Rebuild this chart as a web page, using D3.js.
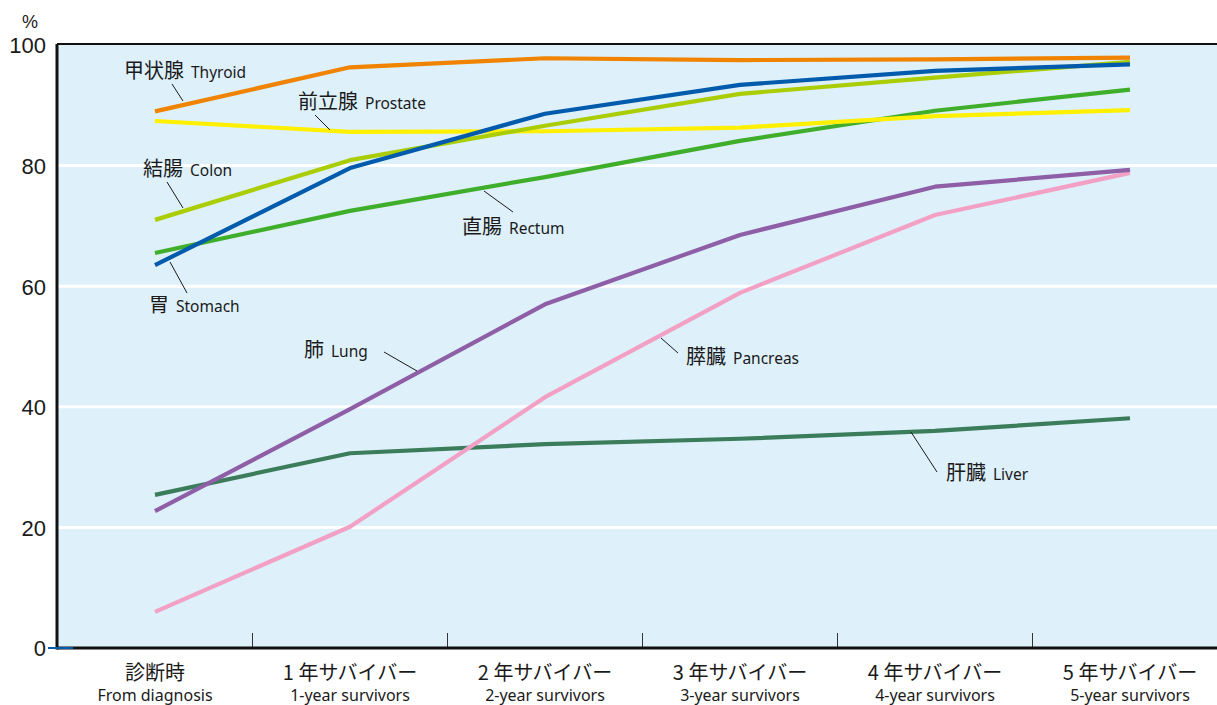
<!DOCTYPE html>
<html><head><meta charset="utf-8">
<script src="https://cdn.jsdelivr.net/npm/d3@7"></script>
<style>
html,body{margin:0;padding:0;background:#fff;overflow:hidden}
svg{display:block}
text{font-family:"Noto Sans CJK JP","Noto Sans",sans-serif;fill:#1a1a1a}
.en{font-family:"Noto Sans","Liberation Sans",sans-serif}
</style></head>
<body>
<svg id="chart" width="1217" height="705"></svg>
<script>
// ---- data ----
const categoriesJa = ["診断時","1 年サバイバー","2 年サバイバー","3 年サバイバー","4 年サバイバー","5 年サバイバー"];
const categoriesEn = ["From diagnosis","1-year survivors","2-year survivors","3-year survivors","4-year survivors","5-year survivors"];
const yTicks = [0,20,40,60,80,100];
const seriesNames = ["liver","pancreas","lung","rectum","prostate","colon","stomach","thyroid"];
const liver    = [25.4, 32.3, 33.8, 34.7, 36.0, 38.1];
const pancreas = [6.0, 20.1, 41.6, 58.9, 71.8, 78.8];
const lung     = [22.7, 39.6, 57.0, 68.5, 76.5, 79.3];
const rectum   = [65.5, 72.5, 78.1, 84.1, 89.1, 92.6];
const prostate = [87.4, 85.6, 85.7, 86.3, 88.2, 89.2];
const colon    = [71.0, 80.9, 86.6, 91.9, 94.6, 97.2];
const stomach  = [63.5, 79.6, 88.6, 93.4, 95.7, 96.8];
const thyroid  = [89.0, 96.3, 97.8, 97.5, 97.6, 97.9];
const labelJa = {thyroid:"甲状腺", prostate:"前立腺", colon:"結腸", stomach:"胃", rectum:"直腸", lung:"肺", pancreas:"膵臓", liver:"肝臓"};
const labelEn = {thyroid:"Thyroid", prostate:"Prostate", colon:"Colon", stomach:"Stomach", rectum:"Rectum", lung:"Lung", pancreas:"Pancreas", liver:"Liver"};

// ---- styles / layout ----
const colors = {liver:"#3b7c5b", pancreas:"#f2a0c4", lung:"#8e5ea6", rectum:"#3fae2a", prostate:"#fff000", colon:"#aacd06", stomach:"#005bac", thyroid:"#f08300"};
const values = {liver, pancreas, lung, rectum, prostate, colon, stomach, thyroid};
// label text anchor (left x, centre y) and leader line endpoints, in pixels
const labelLayout = {
  thyroid:  {tx:124, ty:72,  l:[172,84,183,101]},
  prostate: {tx:298, ty:103, l:[315,115,330,130]},
  colon:    {tx:143, ty:170, l:[167,182,183,208]},
  stomach:  {tx:149, ty:306, l:[170,262,187,293]},
  rectum:   {tx:462, ty:228, l:[484,191,513,212]},
  lung:     {tx:304, ty:351, l:[384,352,417,371]},
  pancreas: {tx:686, ty:358, l:[661,338,678,353]},
  liver:    {tx:946, ty:474, l:[911,432,937,472]}
};

(function(){
const svg = d3.select("#chart");
const W = 1217;
const pLeft = 57, pTop = 44, pBottom = 648;

const x = d3.scaleBand().domain(d3.range(categoriesJa.length)).range([57.5, 1227.5]).paddingInner(0).paddingOuter(0);
const cx = i => x(i) + x.bandwidth()/2;
const y = d3.scaleLinear().domain([0,100]).range([pBottom, 45]);

// background
svg.append("rect").attr("x", pLeft).attr("y", pTop).attr("width", W-pLeft).attr("height", pBottom-pTop).attr("fill", "#def0fa");

// gridlines
svg.append("g").selectAll("line").data(yTicks.filter(d => d > 0 && d < 100)).join("line")
  .attr("x1", pLeft).attr("x2", W).attr("y1", d => y(d)).attr("y2", d => y(d))
  .attr("stroke", "#fff").attr("stroke-width", 3);

// category separators
svg.append("g").selectAll("line").data(d3.range(1, categoriesJa.length)).join("line")
  .attr("x1", d => x(d)).attr("x2", d => x(d)).attr("y1", pBottom-15).attr("y2", pBottom)
  .attr("stroke", "#333").attr("stroke-width", 1);

// y axis labels
const yAxis = d3.axisLeft(y).tickValues(yTicks).tickSize(0).tickPadding(0);
const gy = svg.append("g").attr("transform", "translate(46,0)").call(yAxis);
gy.select(".domain").remove();
gy.selectAll("text").style("font-family", "'Liberation Sans',Arial,sans-serif").style("font-size", "22px").attr("fill", "#1a1a1a").attr("dy", "0.36em");
svg.append("text").attr("x", 22).attr("y", 28).style("font-family", "'Liberation Sans',Arial,sans-serif").style("font-size", "18px").text("%");

// lines
const line = d3.line().x((d, i) => cx(i)).y(d => y(d)).curve(d3.curveLinear);
svg.append("g").selectAll("path").data(seriesNames).join("path")
  .attr("d", k => line(values[k]))
  .attr("fill", "none").attr("stroke", k => colors[k]).attr("stroke-width", 4.2)
  .attr("stroke-linejoin", "round").attr("stroke-linecap", "butt");

// borders
svg.append("line").attr("x1", pLeft).attr("x2", W).attr("y1", pTop).attr("y2", pTop).attr("stroke", "#111").attr("stroke-width", 2);
svg.append("line").attr("x1", pLeft).attr("x2", pLeft).attr("y1", pTop).attr("y2", pBottom+1.5).attr("stroke", "#111").attr("stroke-width", 3);
svg.append("line").attr("x1", pLeft).attr("x2", W).attr("y1", pBottom).attr("y2", pBottom).attr("stroke", "#111").attr("stroke-width", 3);
svg.append("line").attr("x1", pLeft-9).attr("x2", pLeft+16).attr("y1", pBottom).attr("y2", pBottom).attr("stroke", colors.stomach).attr("stroke-width", 2);

// x labels
const gx = svg.append("g");
gx.selectAll("text.ja").data(categoriesJa).join("text").attr("class", "ja")
  .attr("x", (d, i) => cx(i)).attr("y", 680).attr("text-anchor", "middle")
  .style("font-size", "20px").text(d => d);
gx.selectAll("text.en").data(categoriesEn).join("text").attr("class", "en")
  .attr("x", (d, i) => cx(i)).attr("y", 701).attr("text-anchor", "middle")
  .style("font-size", "16px").text(d => d);

// series labels
const lg = svg.append("g");
seriesNames.forEach(k => {
  const L = labelLayout[k];
  lg.append("line").attr("x1", L.l[0]).attr("y1", L.l[1]).attr("x2", L.l[2]).attr("y2", L.l[3])
    .attr("stroke", "#1a1a1a").attr("stroke-width", 1);
  const t = lg.append("text").attr("x", L.tx).attr("y", L.ty).attr("dy", "0.36em");
  t.append("tspan").style("font-size", "20px").text(labelJa[k]);
  t.append("tspan").attr("class", "en").attr("dx", 7).style("font-size", "15.5px").text(labelEn[k]);
});
})();
</script>
</body></html>
